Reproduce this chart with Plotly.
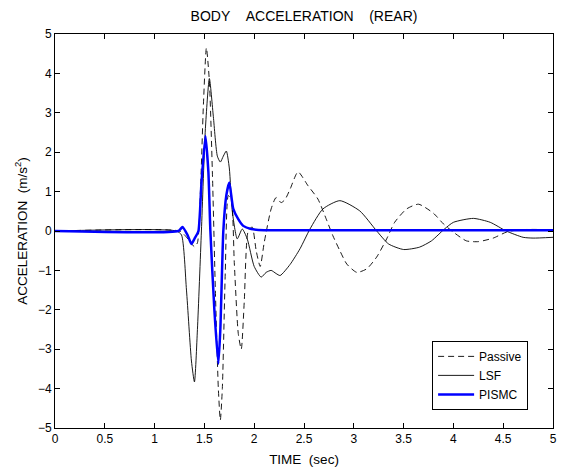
import plotly.graph_objects as go

# time (sec) / acceleration (m/s^2)
t_passive = [0, 1.25, 1.30, 1.35, 1.40, 1.43, 1.46, 1.49, 1.52, 1.55, 1.58, 1.61, 1.64, 1.66,
             1.68, 1.71, 1.74, 1.77, 1.80, 1.84, 1.87, 1.90, 1.94, 1.98, 2.02, 2.06, 2.10,
             2.17, 2.22, 2.27, 2.31, 2.36, 2.44, 2.54, 2.64, 2.73, 2.79, 2.86, 2.93, 3.03,
             3.13, 3.23, 3.33, 3.41, 3.53, 3.65, 3.80, 3.90, 4.00, 4.13, 4.25, 4.40, 4.53,
             4.65, 4.80, 5.0]
a_passive = [0, 0, -0.1, -0.25, -0.4, -0.3, 1.0, 3.2, 4.65, 3.8, 1.5, -1.5, -4.0, -4.8,
             -4.0, -1.0, 0.9, 0.8, -0.8, -2.6, -3.0, -1.8, 0.0, 0.1, -0.5, -0.9, -0.3,
             0.56, 0.85, 0.72, 0.8, 1.06, 1.5, 1.15, 0.81, 0.26, -0.12, -0.5, -0.84, -1.05,
             -0.96, -0.66, -0.2, 0.22, 0.56, 0.68, 0.45, 0.18, -0.03, -0.25, -0.27, -0.18, -0.03,
             0.03, 0.04, 0.03]

t_lsf = [0, 1.22, 1.27, 1.32, 1.37, 1.40, 1.43, 1.47, 1.51, 1.55, 1.59, 1.63, 1.66, 1.69,
         1.72, 1.75, 1.78, 1.83, 1.88, 1.93, 2.00, 2.07, 2.12, 2.17, 2.22, 2.26, 2.36,
         2.46, 2.56, 2.69, 2.86, 3.06, 3.23, 3.35, 3.50, 3.66, 3.78, 3.91, 4.00, 4.20,
         4.37, 4.53, 4.70, 4.80, 5.0]
a_lsf = [0, 0, -0.1, -1.5, -3.3, -3.83, -2.5, 0.0, 2.6, 3.87, 2.9, 1.9, 1.75, 1.9,
         2.03, 1.6, 0.5, -0.2, 0.05, -0.2, -0.9, -1.17, -1.05, -1.0, -1.08, -1.13, -0.85,
         -0.45, 0.05, 0.56, 0.77, 0.51, 0.0, -0.33, -0.47, -0.41, -0.25, 0.05, 0.22, 0.32,
         0.22, 0.0, -0.16, -0.18, -0.16]

t_pismc = [0, 1.24, 1.28, 1.33, 1.37, 1.40, 1.44, 1.47, 1.51, 1.54, 1.56, 1.60, 1.64, 1.66,
           1.69, 1.72, 1.75, 1.79, 1.84, 1.89, 1.97, 2.1, 2.5, 3.0, 3.5, 4.0, 4.5, 5.0]
a_pismc = [0, 0, 0.1, -0.1, -0.33, -0.2, 0.0, 1.2, 2.41, 1.5, 0.0, -2.0, -3.37, -2.5,
           0.0, 0.9, 1.23, 0.56, 0.3, 0.13, 0.05, 0.02, 0.02, 0.02, 0.02, 0.02, 0.02, 0.02]

font = "Liberation Sans, Arial, sans-serif"
sp2 = "\u00a0\u00a0"
sp4 = "\u00a0\u00a0\u00a0\u00a0"

fig = go.Figure()
fig.add_trace(go.Scatter(x=t_passive, y=a_passive, name="Passive", mode="lines",
                         line=dict(color="black", width=0.9, dash="6px,4px",
                                   shape="spline", smoothing=0.6)))
fig.add_trace(go.Scatter(x=t_lsf, y=a_lsf, name="LSF", mode="lines",
                         line=dict(color="black", width=0.9, shape="spline", smoothing=0.6)))
fig.add_trace(go.Scatter(x=t_pismc, y=a_pismc, name="PISMC", mode="lines",
                         line=dict(color="#0000ff", width=2.5, shape="spline", smoothing=0.5)))

axis_style = dict(showgrid=False, zeroline=False, showline=True, linecolor="black",
                  linewidth=1, mirror="ticks", ticks="inside", ticklen=5,
                  tickcolor="black", tickfont=dict(size=12, color="black"),
                  automargin=False)

# the page body has an 8px margin, so the figure is sized to fit inside the window
fig.update_layout(
    width=568, height=466,
    margin=dict(l=47, r=23, t=26, b=46),
    paper_bgcolor="white", plot_bgcolor="white",
    font=dict(family=font, size=12, color="black"),
    title=dict(text="BODY" + sp4 + "ACCELERATION" + sp4 + "(REAR)", x=0.5, xref="paper",
               xanchor="center", y=1 - 8.5 / 466, yref="container", yanchor="middle",
               font=dict(size=14), automargin=False),
    xaxis=dict(range=[0, 5], dtick=0.5, tick0=0,
               title=dict(text="TIME" + sp2 + "(sec)", standoff=9, font=dict(size=13.5)),
               **axis_style),
    yaxis=dict(range=[-5, 5], dtick=1, tick0=0,
               title=dict(text="ACCELERATION" + sp2 + "(m/s<sup>2</sup>)", standoff=7,
                          font=dict(size=13.5)),
               **axis_style),
    legend=dict(x=0.95, y=0.046, xanchor="right", yanchor="bottom", bgcolor="white",
                bordercolor="black", borderwidth=1, font=dict(size=12), tracegroupgap=0,
                itemwidth=36),
    showlegend=True,
)

fig.write_html("out.html")
